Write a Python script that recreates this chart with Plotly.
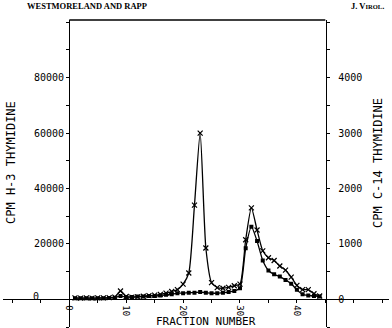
import plotly.graph_objects as go

fractions = list(range(1, 45))
h3_cpm = [500, 400, 500, 400, 500, 500, 600, 800, 3000, 1000,
          800, 900, 1100, 1300, 1500, 1800, 2200, 2800, 3500, 5500,
          9500, 34000, 60000, 18500, 6000, 4200, 4000, 4300, 4900, 5500,
          21500, 33000, 25000, 17500, 15000, 14000, 12000, 10500, 8000, 5000,
          3500, 3500, 2000, 1200]
c14_cpm = [20, 20, 20, 20, 20, 20, 25, 30, 60, 40,
           40, 50, 50, 60, 60, 70, 80, 90, 110, 110,
           120, 120, 130, 120, 110, 110, 120, 130, 150, 200,
           920, 1310, 1050, 700, 520, 450, 410, 350, 280, 170,
           90, 70, 60, 50]

x_ticks = [0, 10, 20, 30, 40]
h3_ticks = [20000, 40000, 60000, 80000]
c14_ticks = [0, 1000, 2000, 3000, 4000]

W, H = 392, 328
MT, MB = 20, 1
PH = H - MT - MB
px_per_frac = 5.69
x_left_px = 69.3
dom = [0.008, 0.992]
xr = [(dom[0] * W - x_left_px) / px_per_frac, (dom[1] * W - x_left_px) / px_per_frac]
yr = [-10000, 100800]
yr2 = [v / 20 for v in yr]
y0_paper = (0 - yr[0]) / (yr[1] - yr[0])

mono = "DejaVu Sans Mono"
line_w = 1.3

fig = go.Figure()
fig.add_trace(go.Scatter(
    x=fractions, y=h3_cpm, mode="lines+markers",
    line=dict(color="black", width=line_w, shape="spline", smoothing=0.6),
    marker=dict(symbol="x-thin", size=5, line=dict(color="black", width=1.2)),
    yaxis="y", showlegend=False))
fig.add_trace(go.Scatter(
    x=fractions, y=c14_cpm, mode="lines+markers",
    line=dict(color="black", width=line_w, shape="spline", smoothing=0.6),
    marker=dict(symbol="square", size=4, color="black"),
    yaxis="y2", showlegend=False))

fig.update_layout(
    width=W, height=H,
    margin=dict(l=0, r=0, t=MT, b=MB),
    paper_bgcolor="white", plot_bgcolor="white",
    xaxis=dict(
        domain=dom, range=xr, anchor="free", position=y0_paper,
        showgrid=False, zeroline=False, showline=True, linecolor="black", linewidth=line_w,
        tickvals=x_ticks, ticktext=[str(v) for v in x_ticks], tickangle=90,
        ticks="outside", ticklen=3, tickcolor="black", tickwidth=1,
        minor=dict(dtick=5, tick0=0, ticks="outside", ticklen=3, tickcolor="black", tickwidth=1, showgrid=False),
        tickfont=dict(family=mono, size=9, color="black"),
    ),
    yaxis=dict(
        range=yr, anchor="free", position=x_left_px / W,
        showgrid=False, zeroline=False, showline=True, linecolor="black", linewidth=line_w,
        tickvals=h3_ticks, ticktext=[str(v) for v in h3_ticks],
        ticks="outside", ticklen=3, tickcolor="black", tickwidth=1,
        minor=dict(dtick=10000, tick0=0, ticks="outside", ticklen=3, tickcolor="black", tickwidth=1, showgrid=False),
        tickfont=dict(family=mono, size=10, color="black"),
    ),
    yaxis2=dict(
        range=yr2, anchor="free", position=326 / W, overlaying="y", side="right",
        showgrid=False, zeroline=False, showline=True, linecolor="black", linewidth=line_w,
        tickvals=c14_ticks, ticktext=[str(v) for v in c14_ticks],
        ticks="outside", ticklen=3, tickcolor="black", tickwidth=1,
        minor=dict(dtick=500, tick0=0, ticks="outside", ticklen=3, tickcolor="black", tickwidth=1, showgrid=False),
        tickfont=dict(family=mono, size=10, color="black"),
        ticklabelstandoff=6,
    ),
)

# top border of the frame
fig.add_shape(type="line", xref="x", yref="paper", x0=0, x1=45, y0=1, y1=1,
              line=dict(color="black", width=line_w))

def py(px):
    return (H - MB - px) / PH

ann = [
    dict(text="WESTMORELAND AND RAPP", x=25 / W, y=py(6), xanchor="left", yanchor="middle",
         font=dict(family="Liberation Serif", size=8.5, color="black", weight="bold")),
    dict(text="J. V<span style='font-size:6.5px'>IROL</span>.", x=386 / W, y=py(6), xanchor="right", yanchor="middle",
         font=dict(family="Liberation Serif", size=8.5, color="black", weight="bold")),
    dict(text="CPM H-3 THYMIDINE", x=11 / W, y=py(163), xanchor="center", yanchor="middle", textangle=-90,
         font=dict(family=mono, size=12, color="black")),
    dict(text="CPM C-14 THYMIDINE", x=378 / W, y=py(163), xanchor="center", yanchor="middle", textangle=-90,
         font=dict(family=mono, size=12, color="black")),
    dict(text="FRACTION NUMBER", x=206 / W, y=py(321.5), xanchor="center", yanchor="middle",
         font=dict(family=mono, size=11, color="black")),
    dict(text="0", x=36 / W, y=py(296), xanchor="center", yanchor="middle",
         font=dict(family=mono, size=10, color="black")),
]
for a in ann:
    a.update(xref="paper", yref="paper", showarrow=False)
    fig.add_annotation(**a)

fig.write_html("out.html")
